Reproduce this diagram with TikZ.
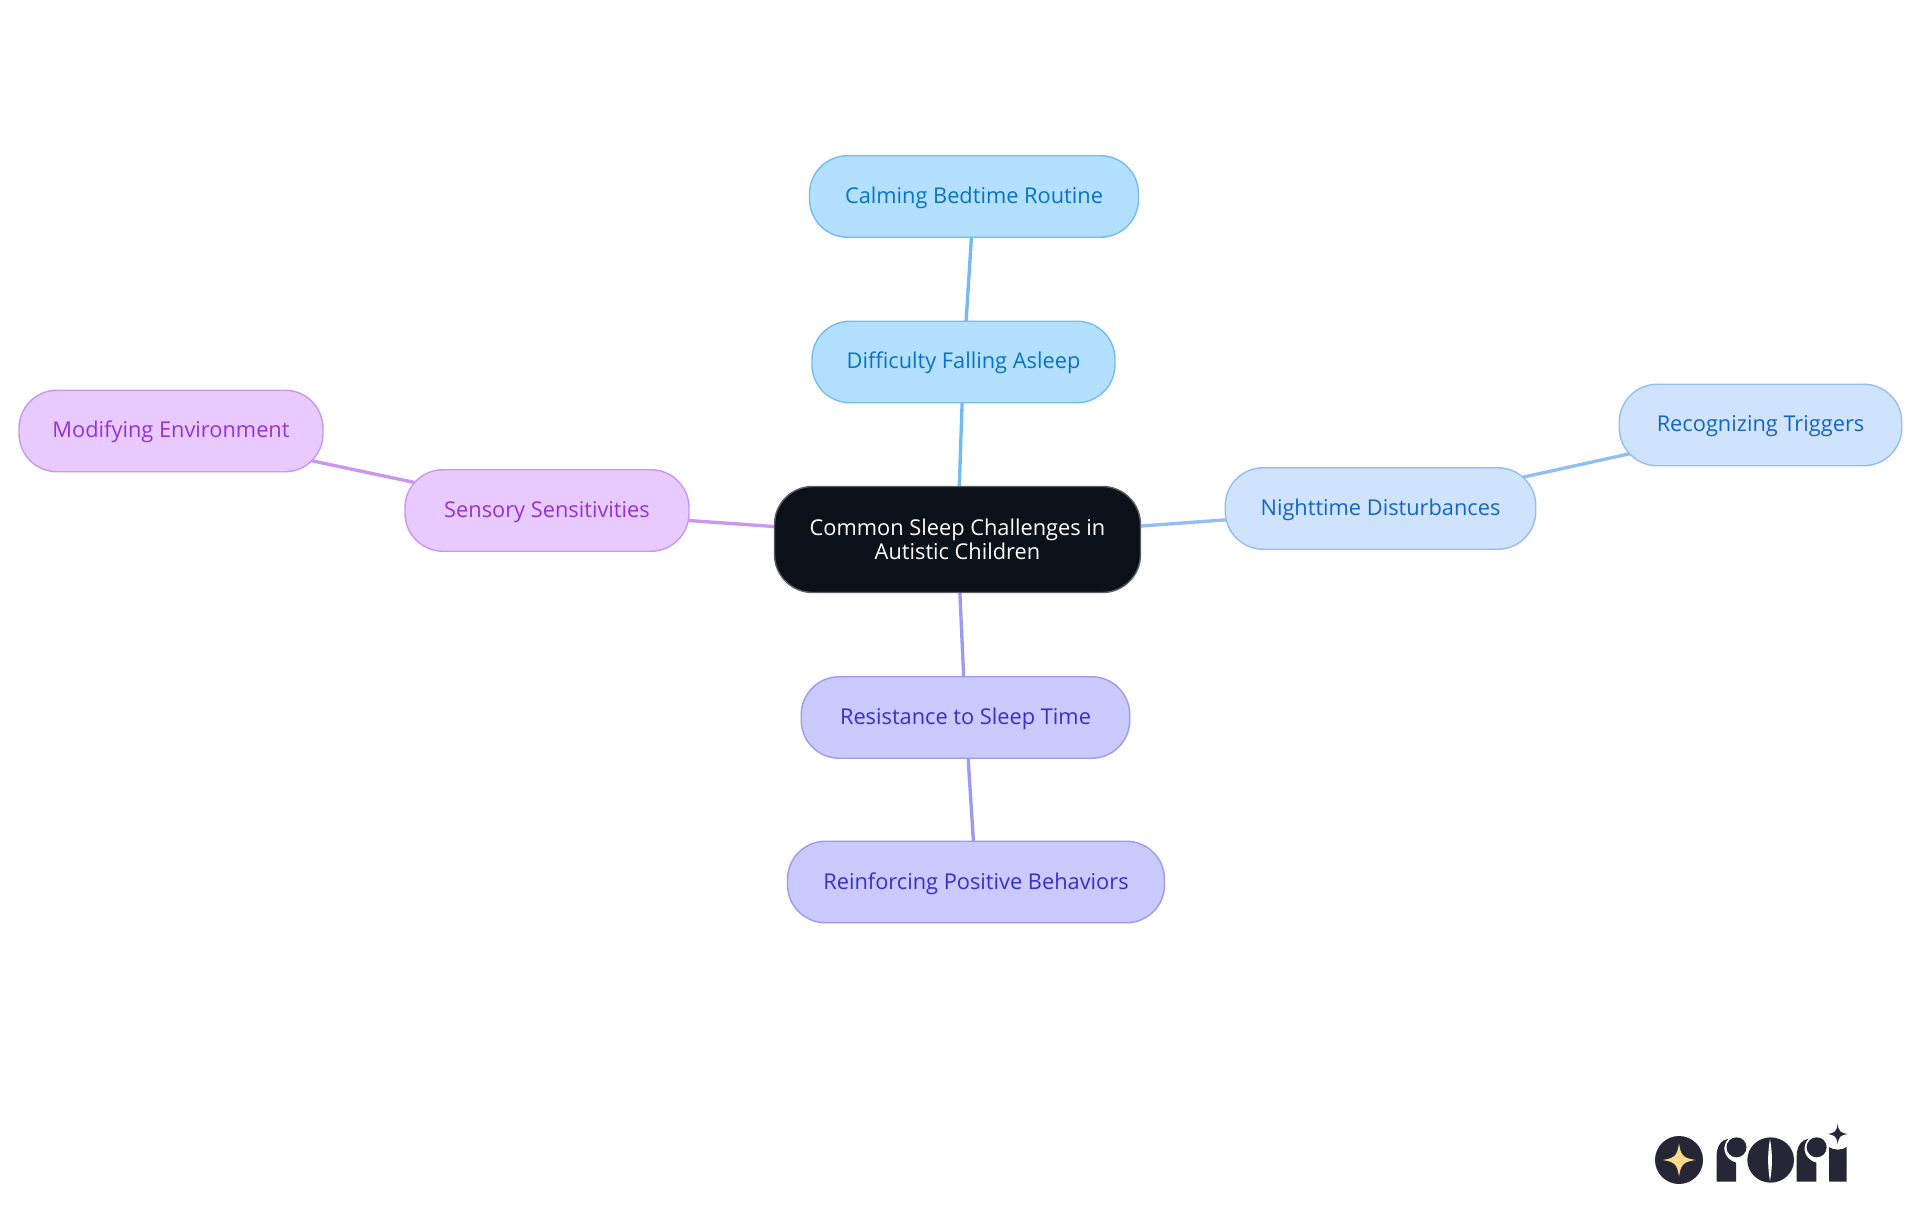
\documentclass[tikz,border=0pt]{standalone}
\usepackage{fontspec}
\setmainfont{Open Sans}
\usetikzlibrary{backgrounds}
\definecolor{rootfill}{HTML}{0B1119}
\definecolor{rootline}{HTML}{5A5F66}
\definecolor{skyfill}{HTML}{B3E0FF}
\definecolor{skyline}{HTML}{74BCF0}
\definecolor{skytext}{HTML}{0B72C4}
\definecolor{bluefill}{HTML}{CFE3FC}
\definecolor{blueline}{HTML}{93BEF5}
\definecolor{bluetext}{HTML}{1565C8}
\definecolor{indigofill}{HTML}{CACAFE}
\definecolor{indigoline}{HTML}{9D9BF0}
\definecolor{indigotext}{HTML}{3730CC}
\definecolor{purplefill}{HTML}{E8CAFF}
\definecolor{purpleline}{HTML}{C996F0}
\definecolor{purpletext}{HTML}{9333D8}
\definecolor{logodark}{HTML}{272636}
\definecolor{logostar}{HTML}{FFD98A}
\tikzset{
  topic/.style={rounded corners=0.76cm, inner sep=0pt, line width=0.8pt,
    align=center, font=\fontsize{12.4}{13.6}\selectfont},
  leaf/.style={topic, minimum height=1.63cm, text height=0.32cm, text depth=0.04cm},
  sky/.style={leaf, fill=skyfill, draw=skyline, text=skytext},
  blue/.style={leaf, fill=bluefill, draw=blueline, text=bluetext},
  indigo/.style={leaf, fill=indigofill, draw=indigoline, text=indigotext},
  purple/.style={leaf, fill=purplefill, draw=purpleline, text=purpletext},
  link/.style={line width=1.9pt},
}
\newcommand{\sparkle}[3]{% centre x, centre y, radius
  (#1-#3,#2) .. controls (#1-0.25*#3,#2+0.12*#3) and (#1-0.12*#3,#2+0.25*#3) .. (#1,#2+#3)
  .. controls (#1+0.12*#3,#2+0.25*#3) and (#1+0.25*#3,#2+0.12*#3) .. (#1+#3,#2)
  .. controls (#1+0.25*#3,#2-0.12*#3) and (#1+0.12*#3,#2-0.25*#3) .. (#1,#2-#3)
  .. controls (#1-0.12*#3,#2-0.25*#3) and (#1-0.25*#3,#2-0.12*#3) .. (#1-#3,#2) -- cycle}
\newcommand{\logoar}[1]{% letter r, left edge x
  \fill[logodark] (#1,0.666) -- (#1,1.166) .. controls (#1,1.36) and (#1+0.08,1.5) .. (#1+0.234,1.52)
    .. controls (#1+0.12,1.42) and (#1+0.1,1.13) .. (#1+0.394,1.046) -- (#1+0.394,0.666) -- cycle;
  \fill[logodark] (#1+0.4,1.354) circle (0.2);
}
\begin{document}
\begin{tikzpicture}
  \useasboundingbox (0,0) rectangle (38.4,24.3);
  \path (19.15,13.51) node[topic, fill=rootfill, draw=rootline, text=white, minimum width=7.32cm, minimum height=2.12cm] (root)
    {Common Sleep Challenges in\\Autistic Children};
  \path (19.27,17.06) node[sky, minimum width=6.06cm] (falling) {Difficulty Falling Asleep};
  \path (19.48,20.37) node[sky, minimum width=6.58cm] (calming) {Calming Bedtime Routine};
  \path (27.61,14.13) node[blue, minimum width=6.21cm] (nighttime) {Nighttime Disturbances};
  \path (35.21,15.80) node[blue, minimum width=5.65cm] (triggers) {Recognizing Triggers};
  \path (19.31,9.95) node[indigo, minimum width=6.57cm] (resistance) {Resistance to Sleep Time};
  \path (19.52,6.66) node[indigo, minimum width=7.54cm] (reinforcing) {Reinforcing Positive Behaviors};
  \path (10.94,14.09) node[purple, minimum width=5.68cm] (sensory) {Sensory Sensitivities};
  \path (3.42,15.68) node[purple, minimum width=6.08cm] (modifying) {Modifying Environment};
  \begin{scope}[on background layer]
    \draw[link, skyline] (root.center) -- (falling.center);
    \draw[link, skyline] (falling.center) -- (calming.center);
    \draw[link, blueline] (root.center) -- (nighttime.center);
    \draw[link, blueline] (nighttime.center) -- (triggers.center);
    \draw[link, indigoline] (root.center) -- (resistance.center);
    \draw[link, indigoline] (resistance.center) -- (reinforcing.center);
    \draw[link, purpleline] (root.center) -- (sensory.center);
    \draw[link, purpleline] (sensory.center) -- (modifying.center);
  \end{scope}
  % logo
  \fill[logodark] (33.58,1.10) circle (0.48);
  \fill[logostar] \sparkle{33.58}{1.10}{0.33};
  \logoar{34.33}
  \fill[logodark] (35.413,1.10) ellipse (0.467 and 0.453);
  \fill[white] (35.40,1.52) .. controls (35.45,1.25) and (35.45,0.95) .. (35.40,0.68)
    .. controls (35.35,0.95) and (35.35,1.25) .. (35.40,1.52) -- cycle;
  \logoar{35.933}
  \fill[logodark] (36.58,0.667) -- (36.58,1.36) .. controls (36.65,1.29) and (36.86,1.29) .. (36.933,1.36) -- (36.933,0.667) -- cycle;
  \fill[logodark] \sparkle{36.753}{1.62}{0.2};
\end{tikzpicture}
\end{document}
